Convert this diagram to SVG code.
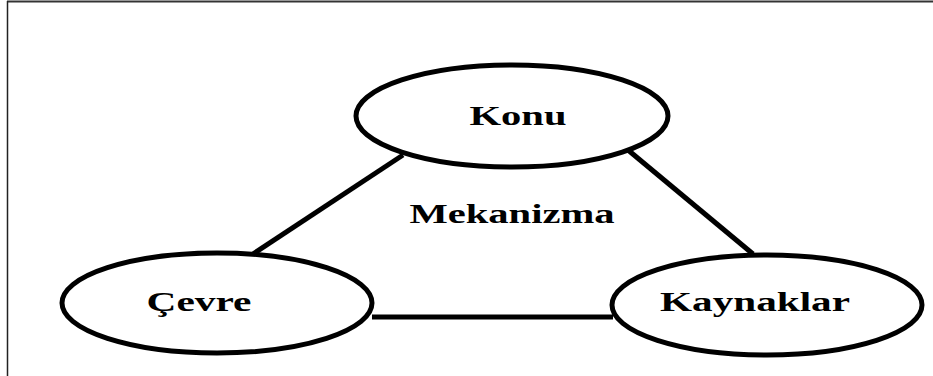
<svg xmlns="http://www.w3.org/2000/svg" width="933" height="376" viewBox="0 0 933 376">
  <style>
    .node ellipse { fill: #ffffff; stroke: #000000; stroke-width: 5; }
    .node text, .label { font-family: "Liberation Serif", "Times New Roman", serif; font-weight: bold; font-size: 27px; fill: #000000; text-anchor: middle; }
    .edges line { stroke: #000000; stroke-width: 5; stroke-linecap: butt; }
  </style>
  <rect width="933" height="376" fill="#ffffff"/>
  <!-- frame -->
  <line x1="7" y1="1.5" x2="933" y2="1.5" stroke="#333333" stroke-width="2"/>
  <line x1="7.5" y1="1" x2="7.5" y2="376" stroke="#222222" stroke-width="1.5"/>

  <g class="edges">
    <line x1="403" y1="155" x2="253" y2="254"/>
    <line x1="628" y1="150" x2="753" y2="254"/>
    <line x1="372" y1="317" x2="613" y2="317"/>
  </g>

  <g id="konu" class="node">
    <ellipse cx="512" cy="116" rx="156" ry="51"/>
    <text x="518" y="125" textLength="97" lengthAdjust="spacingAndGlyphs">Konu</text>
  </g>
  <g id="cevre" class="node">
    <ellipse cx="217" cy="303" rx="155" ry="50"/>
    <text x="199" y="311" textLength="105" lengthAdjust="spacingAndGlyphs">Çevre</text>
  </g>
  <g id="kaynaklar" class="node">
    <ellipse cx="767" cy="305" rx="155" ry="50"/>
    <text x="755" y="311" textLength="190" lengthAdjust="spacingAndGlyphs">Kaynaklar</text>
  </g>
  <text class="label" x="512" y="223" textLength="205" lengthAdjust="spacingAndGlyphs">Mekanizma</text>
</svg>
